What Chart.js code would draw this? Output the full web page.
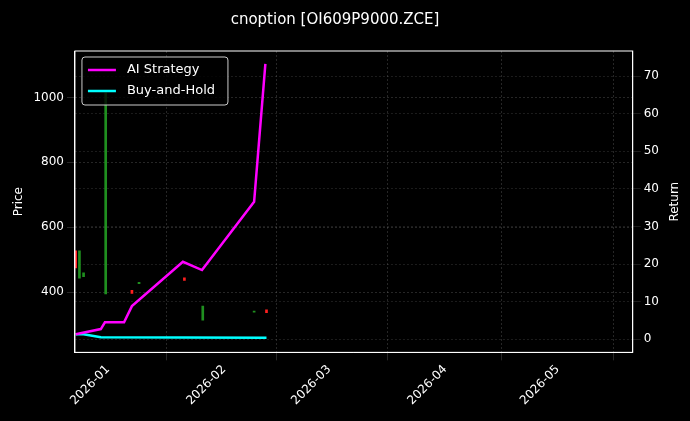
<!DOCTYPE html>
<html><head><meta charset="utf-8">
<script src="https://cdn.jsdelivr.net/npm/chart.js@4"></script>
<style>html,body{margin:0;background:#000}#w{width:690px;height:421px}</style>
</head><body><div id="w"><canvas id="c"></canvas></div>
<script>
// x values are days relative to 2026-01-01
const monthTicks = [0, 31, 59, 90, 120];
const monthLabels = ['2026-01', '2026-02', '2026-03', '2026-04', '2026-05'];
const candleDays = [-8.6, -7.6, -6.5, -0.6, 6.4, 8.3, 20.4, 25.3, 39, 42.3];
const candleLow = [474, 443, 447, 394, 396, 426, 436, 313, 338, 336];
const candleHigh = [527, 527, 459, 1014, 405, 430, 444, 357, 341, 345];
const candleUp = [false, true, true, true, false, true, false, true, true, false];
const aiDays = [-8.6, -1.9, -0.8, 4.3, 6.4, 20, 25.1, 39, 42];
const aiReturn = [1.3, 2.7, 4.5, 4.5, 8.8, 20.6, 18.4, 36.6, 73.3];
const bhDays = [-8.6, -6.5, -1.9, 42.3];
const bhReturn = [1.3, 1.3, 0.5, 0.4];

const grid = { color: 'rgba(160,160,160,0.4)', lineWidth: 0.6 };
const border = { color: '#fff', dash: [2, 2] };
const font = { size: 12, family: 'DejaVu Sans' };
const legendPlugin = {
  id: 'boxLegend',
  afterDraw(chart) {
    const { ctx, chartArea: a } = chart;
    ctx.save();
    ctx.strokeStyle = '#fff'; ctx.lineWidth = 1;
    ctx.strokeRect(a.left, a.top, a.right - a.left, a.bottom - a.top);
    const x = a.left + 7, y = a.top + 6;
    ctx.fillStyle = 'rgba(0,0,0,0.8)'; ctx.strokeStyle = '#ccc';
    ctx.beginPath(); ctx.roundRect(x, y, 146, 48, 3); ctx.fill(); ctx.stroke();
    ctx.font = '13px "DejaVu Sans"'; ctx.textBaseline = 'middle';
    [['AI Strategy', '#ff00ff'], ['Buy-and-Hold', '#00ffff']].forEach((it, i) => {
      const yy = y + 13 + i * 21;
      ctx.strokeStyle = it[1]; ctx.lineWidth = 2.5;
      ctx.beginPath(); ctx.moveTo(x + 6, yy); ctx.lineTo(x + 34, yy); ctx.stroke();
      ctx.fillStyle = '#fff'; ctx.fillText(it[0], x + 45, yy);
    });
    // right axis title, reading bottom to top
    ctx.translate(a.right + 42, (a.top + a.bottom) / 2);
    ctx.rotate(-Math.PI / 2);
    ctx.font = '12px "DejaVu Sans"'; ctx.textAlign = 'center'; ctx.fillStyle = '#fff';
    ctx.fillText('Return', 0, 0);
    ctx.restore();
  }
};
new Chart(document.getElementById('c'), {
  data: {
    datasets: [
      { type: 'bar', yAxisID: 'y', data: candleDays.map((d, i) => ({ x: d, y: [candleLow[i], candleHigh[i]] })),
        backgroundColor: candleUp.map(u => u ? '#1f8f1f' : '#ff2020'), barThickness: 2 },
      { type: 'line', yAxisID: 'y1', data: aiDays.map((d, i) => ({ x: d, y: aiReturn[i] })),
        borderColor: '#ff00ff', borderWidth: 2.5, pointRadius: 0, tension: 0 },
      { type: 'line', yAxisID: 'y1', data: bhDays.map((d, i) => ({ x: d, y: bhReturn[i] })),
        borderColor: '#00ffff', borderWidth: 2.5, pointRadius: 0, tension: 0 }
    ]
  },
  plugins: [legendPlugin],
  options: {
    responsive: true, maintainAspectRatio: false, animation: false,
    layout: { padding: { top: 11, right: 28, left: 8, bottom: 11 } },
    plugins: {
      legend: { display: false }, tooltip: { enabled: false },
      title: { display: true, text: 'cnoption [OI609P9000.ZCE]', color: '#fff', font: { size: 15, family: 'DejaVu Sans', weight: 'normal' }, padding: { bottom: 22 } }
    },
    scales: {
      x: { type: 'linear', min: -8.8, max: 140, offset: false, grid, border,
        afterBuildTicks: s => { s.ticks = monthTicks.map(v => ({ value: v })); },
        ticks: { color: '#fff', maxRotation: 45, minRotation: 45, font, padding: 2,
          callback: v => monthLabels[monthTicks.indexOf(v)] } },
      y: { min: 214, max: 1143, position: 'left', grid, border,
        afterBuildTicks: s => { s.ticks = [400, 600, 800, 1000].map(v => ({ value: v })); },
        ticks: { color: '#fff', font, callback: v => String(v) },
        title: { display: true, text: 'Price', color: '#fff', font } },
      y1: { min: -3.5, max: 76.7, position: 'right', grid: { color: 'rgba(160,160,160,0.3)', lineWidth: 0.6 }, border,
        afterBuildTicks: s => { s.ticks = [0, 10, 20, 30, 40, 50, 60, 70].map(v => ({ value: v })); },
        ticks: { color: '#fff', font } }
    }
  }
});
</script></body></html>
